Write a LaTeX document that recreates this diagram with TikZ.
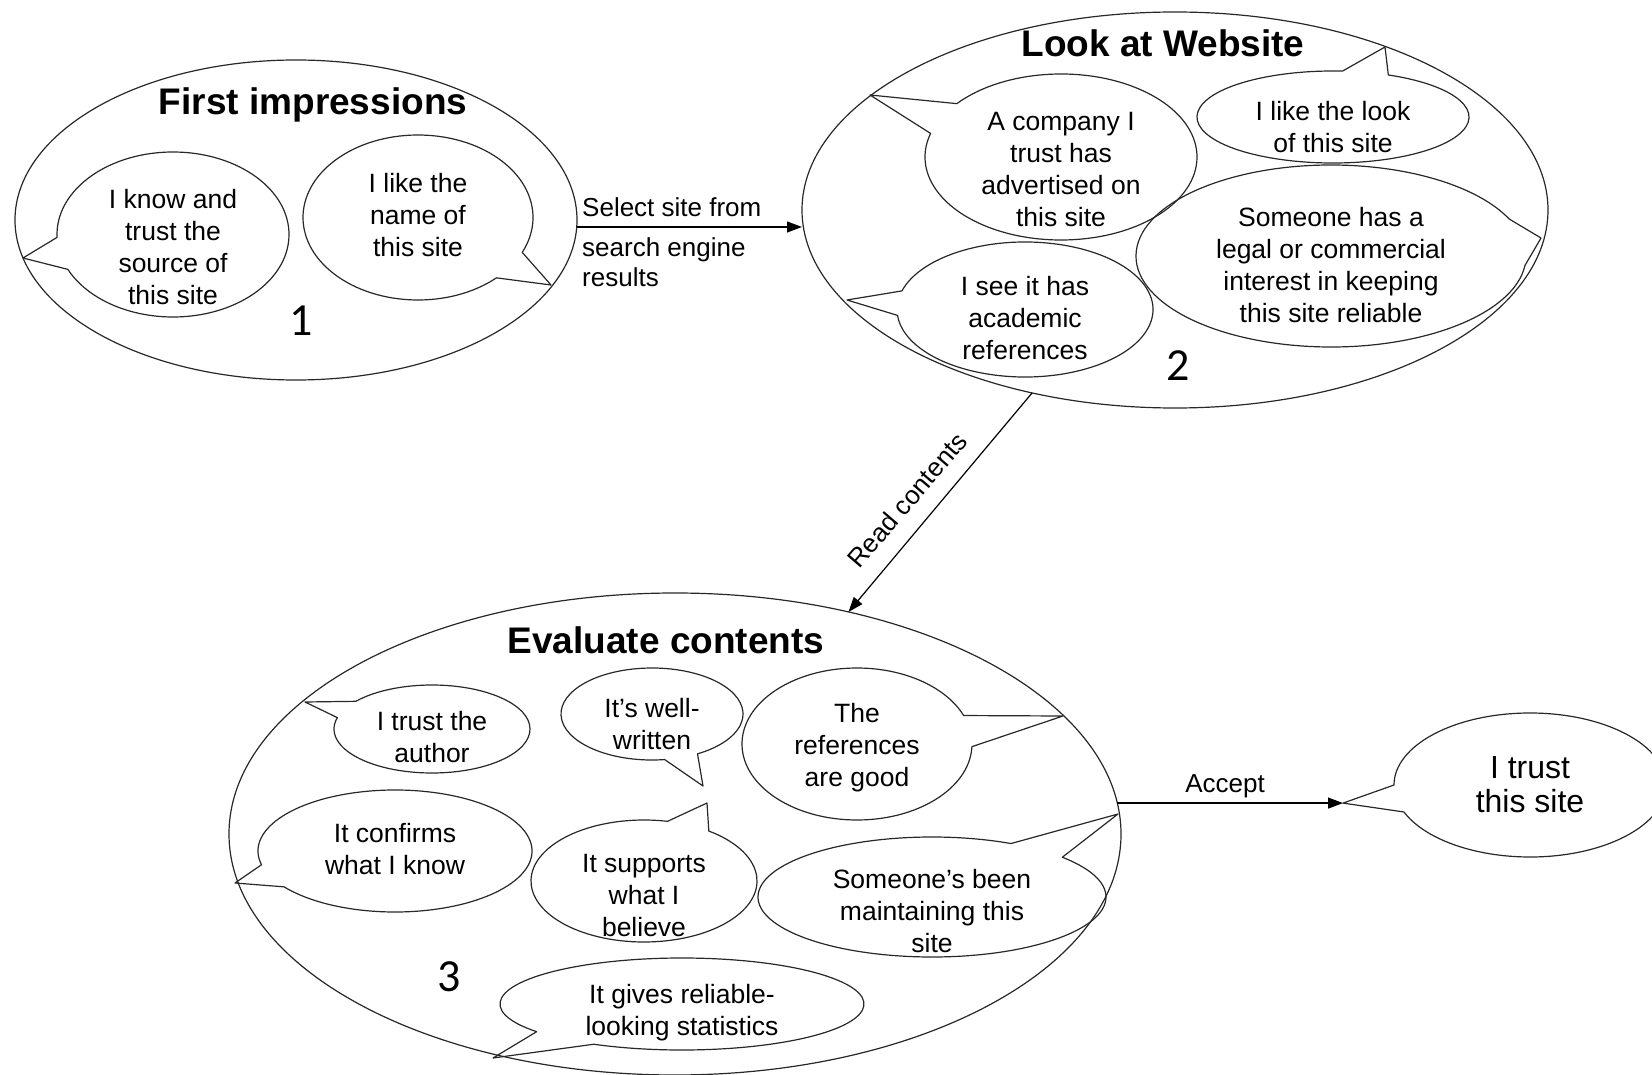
\documentclass[tikz,border=0pt]{standalone}
\usepackage{fontspec}
\setmainfont{Liberation Sans}
\newfontfamily\numfont{Carlito}
\usetikzlibrary{shapes.geometric,arrows.meta}
\definecolor{linec}{RGB}{40,40,40}
\tikzset{
  big/.style={ellipse, draw=linec, line width=1.2pt, inner sep=0pt, outer sep=0pt},
  bub/.style={draw=linec, line width=1.2pt, line join=round},
  txt/.style={font=\fontsize{26.5}{32}\selectfont, align=center, inner sep=0pt},
  ttl/.style={font=\fontsize{37}{40}\selectfont\bfseries, inner sep=0pt},
  num/.style={font=\numfont\fontsize{46}{50}\selectfont, inner sep=0pt},
  conn/.style={draw=black, line width=1.2pt, -{Triangle[length=15pt,width=11pt]}},
  lbl/.style={font=\fontsize{26}{30}\selectfont, inner sep=0pt, align=left},
}
% cx, cy, rx, ry, low angle, high angle, tip coordinate
\newcommand\callout[7]{%
  \draw[bub] (#1,#2) ++(#6:#3 and #4)
    arc[start angle=#6, end angle=#5+360, x radius=#3, y radius=#4]
    -- (#7) -- cycle;}
\begin{document}
\begin{tikzpicture}[x=1pt,y=-1pt]
\useasboundingbox[fill=white] (0,0) rectangle (1652,1075);

% ---------- big ellipses ----------
\node[big, minimum width=562pt, minimum height=320pt] (e1) at (296,220) {};
\node[big, minimum width=746pt, minimum height=396pt] (e2) at (1175,210) {};
\node[big, minimum width=892pt, minimum height=482pt] (e3) at (675,834) {};

% ---------- titles ----------
\node[ttl] (t1) at (313,105) {First impressions};
\node[ttl] (t2) at (1163,43) {Look at Website};
\node[ttl] (t3) at (666,640) {Evaluate contents};

% ---------- numbers ----------
\node[num] (n1) at (301,321) {1};
\node[num] (n2) at (1178,366) {2};
\node[num] (n3) at (449,977) {3};

% ---------- tail tips ----------
\coordinate (p1a) at (23,258);
\coordinate (p1b) at (551,285);
\coordinate (p2a) at (870,95);
\coordinate (p2b) at (1385,47);
\coordinate (p2c) at (1541,238);
\coordinate (p2d) at (847,300);
\coordinate (p3a) at (305,702);
\coordinate (p3b) at (703,786);
\coordinate (p3c) at (1063,716);
\coordinate (p3d) at (235,883);
\coordinate (p3e) at (707,803);
\coordinate (p3f) at (1118,814);
\coordinate (p3g) at (493,1058);
\coordinate (p4) at (1343,803.1);

% ---------- callouts ----------
\callout{173}{234.5}{116}{82.5}{155}{178}{p1a}
\callout{418}{217.5}{115}{82.5}{25}{47}{p1b}
\callout{1061}{157}{136}{83}{196.5}{220}{p2a}
\callout{1333}{117}{136}{46}{274}{294}{p2b}
\callout{1331}{256}{195}{91}{-24}{6}{p2c}
\callout{1025}{309.5}{128}{67.5}{175}{196}{p2d}
\callout{432}{729}{98}{44}{195}{219}{p3a}
\callout{652}{714}{91}{46}{60}{82}{p3b}
\callout{857}{744}{115}{76}{-22}{2}{p3c}
\callout{395}{851}{137}{61}{144}{167}{p3d}
\callout{644}{881}{113}{61}{282}{305}{p3e}
\callout{932}{897}{174}{60}{297}{318.5}{p3f}
\callout{682}{1004}{182}{46}{119}{143}{p3g}
\callout{1530}{785}{136}{72}{158}{180}{p4}

% ---------- callout texts ----------
\node[txt] (b1a) at (173,247) {I know and\\trust the\\source of\\this site};
\node[txt] (b1b) at (418,215) {I like the\\name of\\this site};
\node[txt] (b2a) at (1061,170) {A company I\\trust has\\advertised on\\this site};
\node[txt] (b2b) at (1333,127) {I like the look\\of this site};
\node[txt] (b2c) at (1331,265) {Someone has a\\legal or commercial\\interest in keeping\\this site reliable};
\node[txt] (b2d) at (1025,318) {I see it has\\academic\\references};
\node[txt] (b3a) at (432,737) {I trust the\\author};
\node[txt] (b3b) at (652,724) {It’s well-\\written};
\node[txt] (b3c) at (857,748) {The\\references\\are good};
\node[txt] (b3d) at (395,849) {It confirms\\what I know};
\node[txt] (b3e) at (644,896) {It supports\\what I\\believe};
\node[txt] (b3f) at (932,911) {Someone’s been\\maintaining this\\site};
\node[txt] (b3g) at (682,1013) {It gives reliable-\\looking statistics};
\node[txt, font=\fontsize{32}{34}\selectfont] (b4) at (1530,785) {I trust\\this site};

% ---------- connectors ----------
\coordinate (selstart) at ([yshift=-7pt]e1.east);
\draw[conn] (selstart) -- (selstart -| e2.west);
\draw[conn] (e2.232) -- (e3.52);
\draw[conn] (e3.4) -- (e3.4 -| p4);

% ---------- connector labels ----------
\node[lbl, anchor=west] (lsel) at (582,207) {Select site from};
\node[lbl, anchor=west] (lsearch) at (582,262) {search engine\\results};
\node[lbl, rotate=49.3] (lread) at (907,500) {Read contents};
\node[lbl] (lacc) at (1225,786) {Accept};
\end{tikzpicture}
\end{document}
